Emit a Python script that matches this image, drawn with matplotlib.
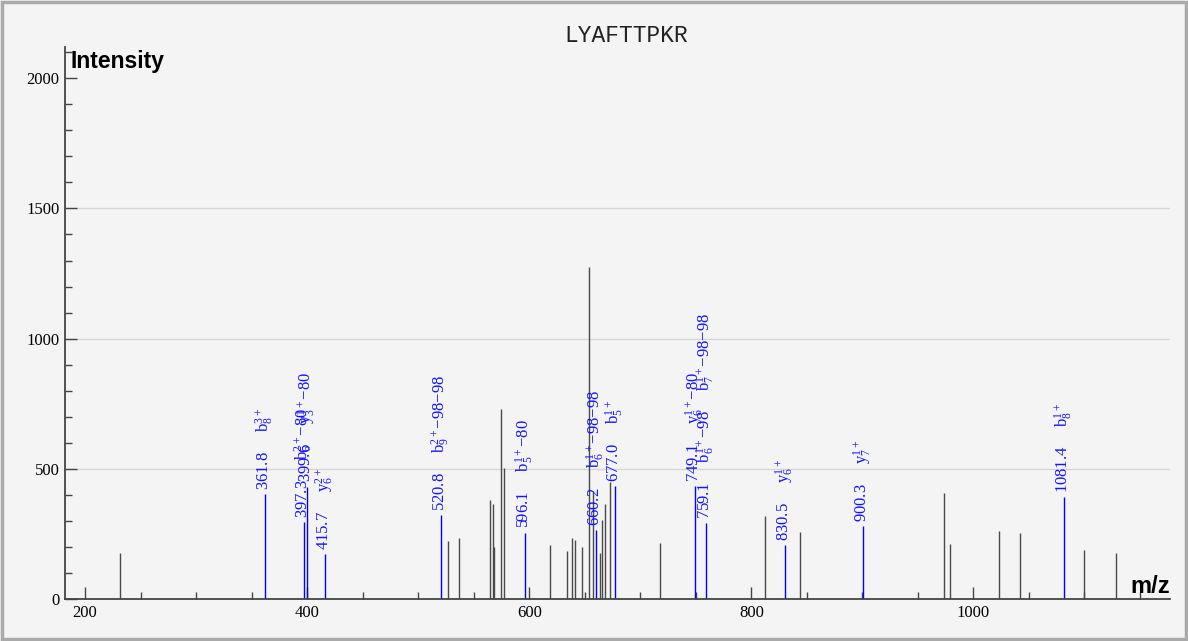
import matplotlib
matplotlib.use("Agg")
import matplotlib.pyplot as plt
from matplotlib.ticker import MultipleLocator
from matplotlib.patches import Rectangle

# peptide / spectrum data
PEPTIDE = "LYAFTTPKR"

# unannotated peaks (m/z, intensity)
peak_mz = [231.5, 527.3, 537.2, 564.3, 567.3, 568.7, 574.2, 577.5, 619.0, 633.6,
           638.4, 640.8, 647.7, 653.4, 657.4, 664.0, 665.4, 667.9, 673.0, 718.0,
           812.0, 844.0, 973.2, 979.3, 1023.2, 1041.5, 1099.7, 1128.0]
peak_int = [177, 223, 233, 380, 363, 201, 728, 505, 207, 184,
            233, 226, 201, 1274, 416, 177, 303, 366, 450, 216,
            319, 257, 406, 211, 261, 252, 188, 178]

# annotated (matched) peaks
ann_mz = [361.8, 397.3, 399.6, 415.7, 520.8, 596.1, 660.2, 677.0, 749.1, 759.1,
          830.5, 900.3, 1081.4]
ann_int = [403, 294, 432, 173, 322, 255, 265, 435, 435, 293, 207, 280, 390]
ann_labels = [
    [r"$\mathrm{b}_8^{3+}$"],
    [r"$\mathrm{b}_6^{2+}$−80"],
    [r"$\mathrm{y}_3^{1+}$−80"],
    [r"$\mathrm{y}_6^{2+}$"],
    [r"$\mathrm{b}_9^{2+}$−98−98"],
    [r"$\mathrm{b}_5^{1+}$−80"],
    [r"$\mathrm{b}_6^{1+}$−98−98"],
    [r"$\mathrm{b}_5^{1+}$"],
    [r"$\mathrm{y}_6^{1+}$−80"],
    [r"$\mathrm{b}_6^{1+}$−98", r"$\mathrm{b}_7^{1+}$−98−98"],
    [r"$\mathrm{y}_6^{1+}$"],
    [r"$\mathrm{y}_7^{1+}$"],
    [r"$\mathrm{b}_8^{1+}$"],
]

plt.rcParams["font.family"] = ["Liberation Serif", "DejaVu Serif"]
plt.rcParams["mathtext.fontset"] = "custom"
plt.rcParams["mathtext.rm"] = "Liberation Serif"
plt.rcParams["mathtext.it"] = "Liberation Serif:italic"

BG = "#f4f4f4"
BLUE = "#1414ff"

fig = plt.figure(figsize=(11.88, 6.41), dpi=100, facecolor=BG)
ax = fig.add_axes([65 / 1188, 42 / 641, 1105 / 1188, 552 / 641], facecolor=BG)

ax.set_xlim(182, 1177)
ax.set_ylim(0, 2120)

# grid
ax.set_yticks([0, 500, 1000, 1500, 2000])
ax.yaxis.grid(True, color="#d6d6d6", lw=1)
gl = ax.get_ygridlines()
gl[0].set_visible(False)
gl[-1].set_visible(False)
ax.set_axisbelow(True)

ax.vlines(peak_mz, 0, peak_int, color="#4a4a4a", lw=1)
ax.vlines(ann_mz, 0, ann_int, color="blue", lw=1)

gap = "     "
for mz, inten, labs in zip(ann_mz, ann_int, ann_labels):
    text = f"{mz:.1f}" + gap + gap.join(labs)
    ax.annotate(text, xy=(mz, inten), xytext=(0, 3), textcoords="offset points",
                rotation=90, ha="center", va="bottom", color=BLUE, fontsize=12)

# axes styling
for s in ["top", "right"]:
    ax.spines[s].set_visible(False)
for s in ["left", "bottom"]:
    ax.spines[s].set_color("#444444")
    ax.spines[s].set_linewidth(1.3)

ax.set_xticks([200, 400, 600, 800, 1000])
ax.xaxis.set_minor_locator(MultipleLocator(50))
ax.yaxis.set_minor_locator(MultipleLocator(100))
ax.tick_params(which="major", direction="in", length=8.5, width=1, color="#444444",
               labelsize=12, pad=4)
ax.tick_params(which="minor", direction="in", length=5, width=1, color="#444444")

fig.text(626 / 1188, 1 - 35 / 641, PEPTIDE, family=["Liberation Mono", "DejaVu Sans Mono"],
         fontsize=16.5, ha="center", va="center", color="#222222")
fig.text(70 / 1188, 1 - 68 / 641, "Intensity", family=["Liberation Sans", "DejaVu Sans"],
         fontsize=16.5, fontweight="bold", ha="left", va="baseline")
fig.text(1170 / 1188, 1 - 593 / 641, "m/z", family=["Liberation Sans", "DejaVu Sans"],
         fontsize=17, fontweight="bold", ha="right", va="baseline")

# outer frame
fig.patches.append(Rectangle((0.002, 0.003), 0.996, 0.994, transform=fig.transFigure,
                             fill=False, edgecolor="#aaaaaa", lw=2.5))

fig.savefig("out.png", dpi=100, facecolor=BG)
